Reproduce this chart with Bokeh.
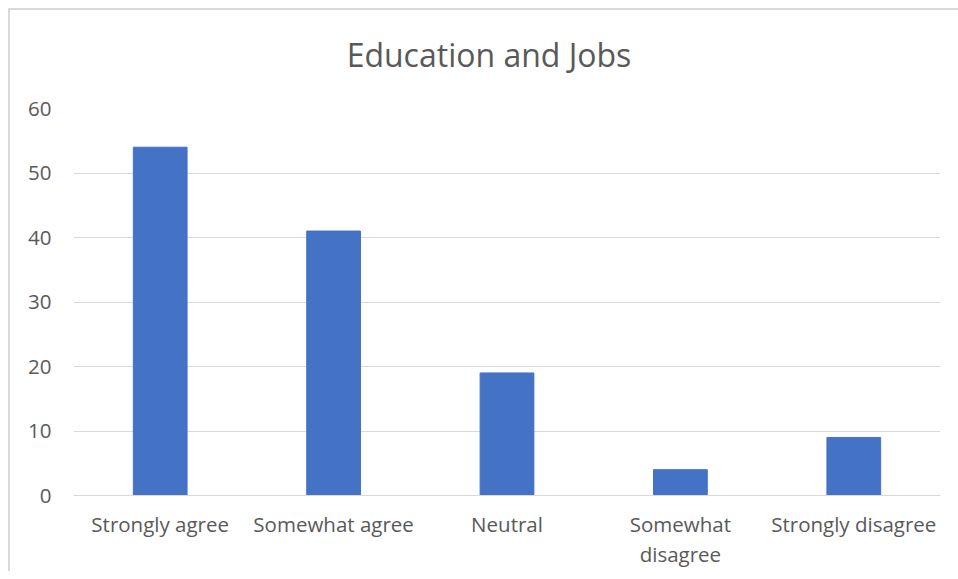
from bokeh.plotting import figure
from bokeh.models import ColumnDataSource, Range1d, FactorRange, Div
from bokeh.layouts import column
from bokeh.embed import file_html
from bokeh.resources import INLINE

title_text = "Education and Jobs"
categories = ["Strongly agree", "Somewhat agree", "Neutral", "Somewhat\ndisagree", "Strongly disagree"]
values = [54, 41, 19, 4, 9]
y_ticks = [0, 10, 20, 30, 40, 50, 60]

FONT = "Open Sans"
GREY = "#595959"

src = ColumnDataSource(dict(cat=categories, val=values))

title = Div(text=title_text, width=948, height=68,
            styles={"font-family": "'Open Sans'", "font-size": "32px", "color": GREY,
                    "text-align": "center", "line-height": "44px",
                    "box-sizing": "border-box", "padding-top": "18px"})

p = figure(x_range=FactorRange(*categories), y_range=Range1d(0, 60),
           width=948, height=483, output_backend="svg", toolbar_location=None,
           min_border_left=63, min_border_right=18, min_border_top=20, min_border_bottom=76)
p.outline_line_color = None
p.x_range.range_padding = 0
p.x_range.factor_padding = 0

p.vbar(x="cat", top="val", width=0.31, source=src, color="#4472c4")

p.xgrid.grid_line_color = None
p.ygrid.grid_line_color = "#d9d9d9"
p.ygrid.grid_line_width = 1

p.yaxis.ticker = y_ticks
p.yaxis.axis_line_color = None
p.yaxis.major_tick_line_color = None
p.yaxis.minor_tick_line_color = None
p.yaxis.major_label_standoff = 16
p.yaxis.major_label_text_font = FONT
p.yaxis.major_label_text_font_size = "20.5px"
p.yaxis.major_label_text_color = GREY

p.xaxis.axis_line_color = "#d9d9d9"
p.xaxis.major_tick_line_color = None
p.xaxis.minor_tick_line_color = None
p.xaxis.major_label_standoff = 8
p.xaxis.major_label_text_font = FONT
p.xaxis.major_label_text_font_size = "20.5px"
p.xaxis.major_label_text_color = GREY
p.xaxis.major_label_text_line_height = 1.1

layout = column(title, p, spacing=0)
layout.styles = {"margin-left": "8px", "margin-top": "8px",
                 "border-left": "2px solid #d9d9d9", "border-top": "2px solid #d9d9d9"}

open("out.html", "w").write(file_html(layout, INLINE))
